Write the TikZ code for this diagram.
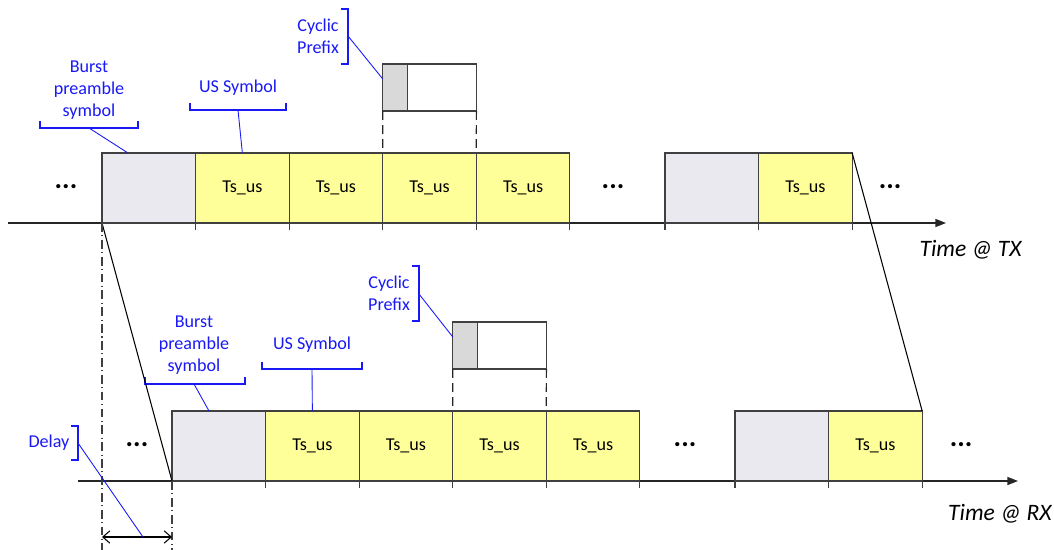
\documentclass[tikz,border=0pt]{standalone}
\usepackage{fontspec}
\setmainfont{Carlito}
\usetikzlibrary{arrows.meta,calc}
\definecolor{preFill}{RGB}{235,233,240}
\definecolor{tsFill}{RGB}{255,255,153}
\definecolor{cpFill}{RGB}{217,217,217}
\definecolor{boxLine}{RGB}{64,64,64}
\definecolor{lblBlue}{RGB}{25,25,245}
\tikzset{
  boxbase/.style={draw=boxLine, line width=0.6pt, outer sep=0pt, inner sep=0pt,
    minimum height=1.4cm, font=\fontsize{10.3}{12.5}\selectfont},
  pre/.style={boxbase, fill=preFill, minimum width=1.872cm},
  ts/.style={boxbase, fill=tsFill, minimum width=1.872cm},
  cpg/.style={draw=boxLine, line width=0.6pt, outer sep=0pt, fill=cpFill, minimum width=0.5cm, minimum height=0.94cm, inner sep=0pt},
  cpw/.style={draw=boxLine, line width=0.6pt, outer sep=0pt, fill=white, minimum width=1.372cm, minimum height=0.94cm, inner sep=0pt},
  lbl/.style={text=lblBlue, align=center, inner sep=0pt, font=\fontsize{10.3}{12.5}\selectfont},
  brk/.style={draw=lblBlue, line width=0.6pt},
  lead/.style={draw=lblBlue, line width=0.5pt},
  tick/.style={draw=boxLine, line width=0.6pt},
  axisline/.style={draw=black!85, line width=0.8pt, -{Triangle[length=6pt,width=4.5pt]}},
  cpdash/.style={draw=black!85, line width=0.7pt, dash pattern=on 5pt off 3pt},
  dashdotline/.style={draw=black!75, line width=0.6pt, dash pattern=on 5pt off 2pt on 0.6pt off 2pt},
  slant/.style={draw=black, line width=0.6pt},
  dots/.style={inner sep=0pt, font=\fontsize{16}{16}\selectfont\bfseries},
  timelbl/.style={inner sep=0pt, font=\fontsize{13.4}{15}\selectfont\itshape},
}
\begin{document}
\begin{tikzpicture}[x=0.02cm, y=-0.02cm]
\useasboundingbox (0,0) rectangle (1054,550);

% ---------------- TX row ----------------
\coordinate (ax1s) at (8,223);
\coordinate (ax1e) at (946,223);
\draw[axisline] (ax1s) -- (ax1e);

\node[pre, anchor=north west] (p1) at (102,153) {};
\node[ts, anchor=west] (a1) at (p1.east) {Ts\_us};
\node[ts, anchor=west] (a2) at (a1.east) {Ts\_us};
\node[ts, anchor=west] (a3) at (a2.east) {Ts\_us};
\node[ts, anchor=west] (a4) at (a3.east) {Ts\_us};
\node[pre, anchor=north west] (p2) at (665,153) {};
\node[ts, anchor=west] (a5) at (p2.east) {Ts\_us};

\foreach \n in {p1,a1,a2,a3,a4,p2,a5} \draw[tick] (\n.south east) -- ++(0,7);
\draw[tick] (p2.south west) -- ++(0,7);

\node[dots] (d1) at (66,187) {...};
\node[dots] (d2) at (613,187) {...};
\node[dots] (d3) at (890,187) {...};

\node[cpg, anchor=south west] (c1) at (382.8,111) {};
\node[cpw, anchor=west] (c2) at (c1.east) {};
\draw[cpdash] (c1.south west) -- (a3.north west);
\draw[cpdash] (c2.south east) -- (a3.north east);

\node[timelbl, anchor=east] (tx) at (1022,250) {Time @ TX};

% labels TX
\node[lbl] (lb1) at (89,90) {Burst\\preamble\\symbol};
\coordinate (kb1) at (89,128);
\draw[brk] (40,121) -- (40,128) -- (138,128) -- (138,121);
\draw[lead] (kb1) -- ($(p1.north west)+(26,0)$);

\node[lbl] (lu1) at (238,88) {US Symbol};
\coordinate (ku1) at (238,110);
\draw[brk] (190,103) -- (190,110) -- (286,110) -- (286,103);
\draw[lead] (ku1) -- (a1.north);

\node[lbl] (lc1) at (318,36) {Cyclic\\Prefix};
\coordinate (kc1) at (348,36);
\draw[brk] (341,9) -- (348,9) -- (348,64) -- (341,64);
\draw[lead] (kc1) -- ($(c1.north west)+(0,15)$);

% ---------------- RX row ----------------
\coordinate (ax2s) at (78,481);
\coordinate (ax2e) at (1018,481);
\draw[axisline] (ax2s) -- (ax2e);

\node[pre, anchor=north west] (q1) at (172,411) {};
\node[ts, anchor=west] (b1) at (q1.east) {Ts\_us};
\node[ts, anchor=west] (b2) at (b1.east) {Ts\_us};
\node[ts, anchor=west] (b3) at (b2.east) {Ts\_us};
\node[ts, anchor=west] (b4) at (b3.east) {Ts\_us};
\node[pre, anchor=north west] (q2) at (735,411) {};
\node[ts, anchor=west] (b5) at (q2.east) {Ts\_us};

\foreach \n in {q1,b1,b2,b3,b4,q2,b5} \draw[tick] (\n.south east) -- ++(0,7);
\draw[tick] (q2.south west) -- ++(0,7);

\node[dots] (d4) at (137,445) {...};
\node[dots] (d5) at (685,445) {...};
\node[dots] (d6) at (961,445) {...};

\node[cpg, anchor=south west] (c3) at (452.8,369) {};
\node[cpw, anchor=west] (c4) at (c3.east) {};
\draw[cpdash] (c3.south west) -- (b3.north west);
\draw[cpdash] (c4.south east) -- (b3.north east);

\node[timelbl, anchor=east] (rx) at (1052,514) {Time @ RX};

% labels RX
\node[lbl] (lb2) at (194,345) {Burst\\preamble\\symbol};
\coordinate (kb2) at (194,384);
\draw[brk] (145,377) -- (145,384) -- (245,384) -- (245,377);
\draw[lead] (kb2) -- ($(q1.north west)+(37,0)$);

\node[lbl] (lu2) at (312,345) {US Symbol};
\coordinate (ku2) at (312,369);
\draw[brk] (262,362) -- (262,369) -- (362,369) -- (362,362);
\draw[lead] (ku2) -- (b1.north);

\node[lbl] (lc2) at (389,293) {Cyclic\\Prefix};
\coordinate (kc2) at (419,294);
\draw[brk] (412,266) -- (419,266) -- (419,321) -- (412,321);
\draw[lead] (kc2) -- ($(c3.north west)+(0,15)$);

% propagation lines
\draw[slant] (p1.south west) -- (q1.south west);
\draw[slant] (a5.north east) -- (b5.north east);

% delay
\coordinate (dl1) at (102,550);
\coordinate (dl2) at (172,550);
\draw[dashdotline] (p1.south west) -- (dl1);
\draw[dashdotline] (q1.south west) -- (dl2);
\coordinate (da1) at (102,537);
\coordinate (da2) at (172,537);
\draw[line width=0.6pt, {Straight Barb[length=4pt,width=7pt]}-{Straight Barb[length=4pt,width=7pt]}] (da1) -- (da2);

\node[lbl] (ld) at (49,443) {Delay};
\coordinate (kd) at (78,443);
\draw[brk] (71,426) -- (78,426) -- (78,460) -- (71,460);
\draw[lead] (kd) -- (143,537);
\end{tikzpicture}
\end{document}
